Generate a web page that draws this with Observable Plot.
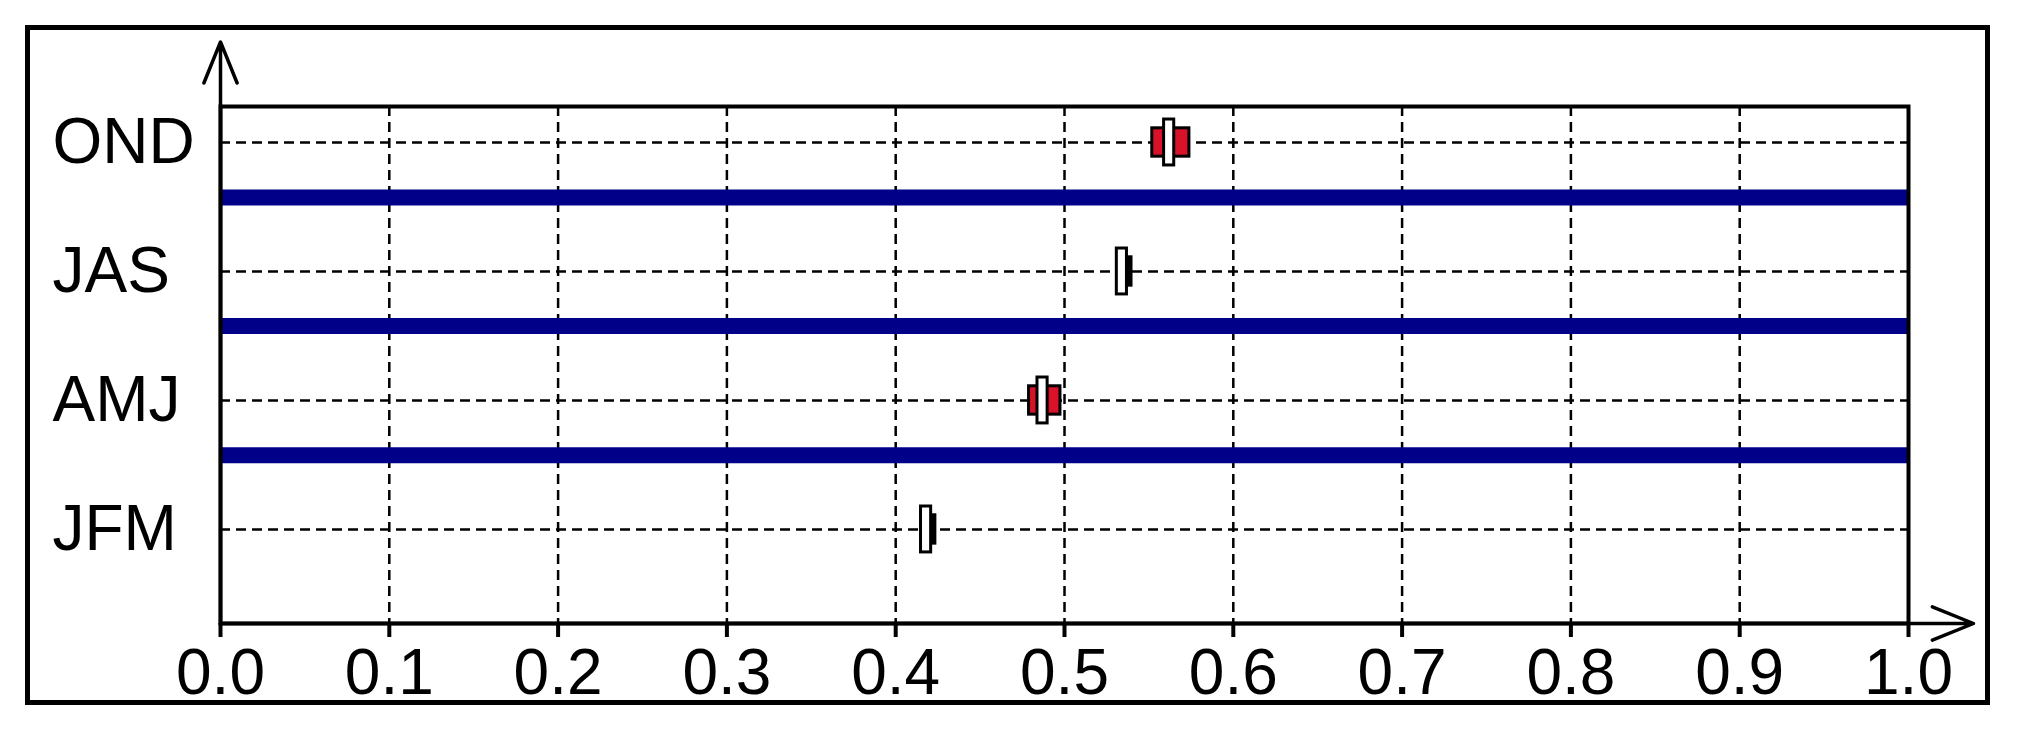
<!DOCTYPE html>
<html>
<head>
<meta charset="utf-8">
<script src="https://cdn.jsdelivr.net/npm/d3@7"></script>
<script src="https://cdn.jsdelivr.net/npm/@observablehq/plot@0.6"></script>
<style>
  html, body { margin: 0; padding: 0; background: #fff; }
  #wrap { position: relative; width: 2018px; height: 735px; }
  #border { position: absolute; left: 25px; top: 25px; width: 1965px; height: 680px; box-sizing: border-box; border: 5px solid #000; pointer-events: none; }
  #chart { position: absolute; left: 0; top: 0; }
</style>
</head>
<body>
<div id="wrap"><div id="chart"></div><div id="border"></div></div>
<script>
// Data
const seasons = ["JFM", "AMJ", "JAS", "OND"];
const rowPos = [1, 2, 3, 4];
const lows = [0.416, 0.479, 0.532, 0.552];
const medians = [0.418, 0.487, 0.534, 0.562];
const highs = [0.4235, 0.4976, 0.5397, 0.574];
const separators = [1.575, 2.578, 3.574];
const xTicks = [0, 0.1, 0.2, 0.3, 0.4, 0.5, 0.6, 0.7, 0.8, 0.9, 1.0];
const xTickLabels = ["0.0", "0.1", "0.2", "0.3", "0.4", "0.5", "0.6", "0.7", "0.8", "0.9", "1.0"];

const rows = seasons.map((s, i) => ({season: s, pos: rowPos[i], lo: lows[i], med: medians[i], hi: highs[i]}));

const yDomain = [0.271, 4.279];
const yArrowTop = 4.78;
const xArrowEnd = 1.0385;
const boxHalf = 0.11;    // half height of box in y units
const barHalfH = 0.178;  // half height of median bar
const barHalfW = 0.003;  // half width of median bar

const plot = Plot.plot({
  width: 2018,
  height: 735,
  marginLeft: 220,
  marginRight: 110,
  marginTop: 106,
  marginBottom: 112,
  style: {fontFamily: "'Liberation Sans', Arial, sans-serif", background: "transparent", color: "#000"},
  x: {domain: [0, 1]},
  y: {domain: yDomain},
  marks: [
    // dashed grid
    Plot.ruleX(xTicks.slice(1, -1), {stroke: "#000", strokeWidth: 2.5, strokeDasharray: "10,6"}),
    Plot.ruleY(rowPos, {stroke: "#000", strokeWidth: 2.5, strokeDasharray: "10,6"}),
    // blue separators
    Plot.ruleY(separators, {stroke: "#000088", strokeWidth: 16}),
    // frame
    Plot.frame({stroke: "#000", strokeWidth: 4}),
    // axes
    Plot.axisX({
      ticks: xTicks,
      tickFormat: (d, i) => xTickLabels[i],
      tickSize: 14,
      tickPadding: 11,
      strokeWidth: 4,
      fontSize: 64,
      label: null
    }),
    Plot.axisY({
      ticks: rowPos,
      tickFormat: (d) => seasons[rowPos.indexOf(d)],
      tickSize: 0,
      tickPadding: 0,
      textAnchor: "start",
      dx: -168,
      fontSize: 64,
      label: null
    }),
    // axis arrows
    Plot.arrow([{x1: 0, y1: yDomain[0], x2: 0, y2: yArrowTop}], {
      x1: "x1", y1: "y1", x2: "x2", y2: "y2",
      stroke: "#000", strokeWidth: 3.5, headLength: 19, headAngle: 44
    }),
    Plot.arrow([{x1: 0, y1: yDomain[0], x2: xArrowEnd, y2: yDomain[0]}], {
      x1: "x1", y1: "y1", x2: "x2", y2: "y2",
      stroke: "#000", strokeWidth: 3.5, headLength: 19, headAngle: 44
    }),
    // boxes
    Plot.rect(rows, {
      x1: "lo", x2: "hi",
      y1: d => d.pos - boxHalf, y2: d => d.pos + boxHalf,
      fill: d => (d.hi - d.lo) > 0.01 ? "#d81228" : "#000",
      stroke: "#000", strokeWidth: 3
    }),
    // median bars
    Plot.rect(rows, {
      x1: d => d.med - barHalfW, x2: d => d.med + barHalfW,
      y1: d => d.pos - barHalfH, y2: d => d.pos + barHalfH,
      fill: "#fff", stroke: "#000", strokeWidth: 3
    })
  ]
});
document.getElementById("chart").appendChild(plot);
</script>
</body>
</html>
